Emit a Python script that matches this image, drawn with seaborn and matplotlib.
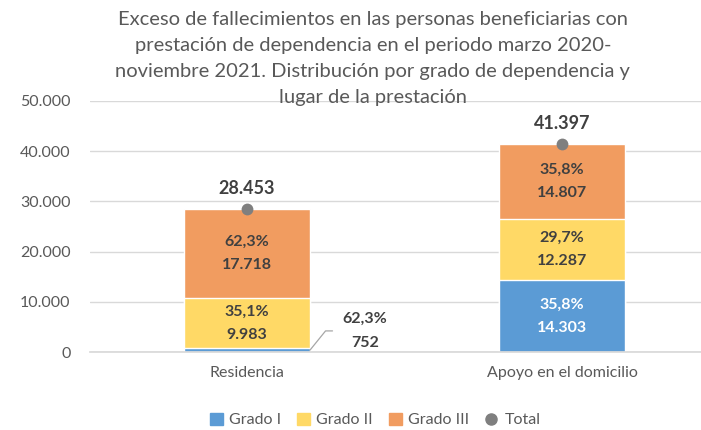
import seaborn as sns
import matplotlib.pyplot as plt
from matplotlib.patches import Patch
from matplotlib.lines import Line2D
import numpy as np

# Data
categories = ["Residencia", "Apoyo en el domicilio"]
grado_1 = [752, 14303]
grado_2 = [9983, 12287]
grado_3 = [17718, 14807]
totals = [28453, 41397]
pct_1 = [62.3, 35.8]
pct_2 = [35.1, 29.7]
pct_3 = [62.3, 35.8]
series_names = ["Grado I", "Grado II", "Grado III", "Total"]
yticks = [0, 10000, 20000, 30000, 40000, 50000]

colors = ["#5B9BD5", "#FFD966", "#F19C60"]
dot_color = "#7F7F7F"
text_dark = "#404040"
text_gray = "#595959"

sns.set_theme(style="white")
plt.rcParams["font.family"] = ["Lato", "DejaVu Sans"]


def es_num(v):
    return f"{v:,}".replace(",", ".")


def es_pct(p):
    return f"{p:.1f}%".replace(".", ",")


fig = plt.figure(figsize=(7.01, 4.30), dpi=100)
ax = fig.add_axes([90 / 701, 1 - 352 / 430, 611 / 701, 251 / 430])

c1 = np.array(grado_1)
c2 = c1 + np.array(grado_2)
c3 = c2 + np.array(grado_3)

# stacked by overdrawing cumulative heights
for heights, col in [(c3, colors[2]), (c2, colors[1]), (c1, colors[0])]:
    sns.barplot(x=categories, y=heights, color=col, width=0.4, ax=ax,
                saturation=1, zorder=2)

sns.stripplot(x=categories, y=totals, jitter=False, color=dot_color,
              size=8.5, ax=ax, zorder=4)

ax.set_xlim(-157 / 315, (701 - 247) / 315)
ax.set_ylim(0, 50000)
ax.set_yticks(yticks)
ax.set_yticklabels([es_num(v) for v in yticks])
ax.set_xlabel("")
ax.set_ylabel("")
ax.grid(axis="y", color="#D9D9D9", lw=1, zorder=0)
ax.set_axisbelow(True)
for s in ["top", "right", "left"]:
    ax.spines[s].set_visible(False)
ax.spines["bottom"].set_color("#D9D9D9")
ax.tick_params(axis="y", labelsize=11.5, colors=text_gray, length=0, pad=14)
ax.tick_params(axis="x", labelsize=11.5, colors=text_gray, length=0, pad=10)

# segment labels
lab_kw = dict(ha="center", va="center", fontsize=11.5, fontweight="bold",
              linespacing=1.85, zorder=5)
for i in range(2):
    ax.text(i, (c2[i] + c3[i]) / 2, f"{es_pct(pct_3[i])}\n{es_num(grado_3[i])}",
            color=text_dark, **lab_kw)
    ax.text(i, (c1[i] + c2[i]) / 2, f"{es_pct(pct_2[i])}\n{es_num(grado_2[i])}",
            color=text_dark, **lab_kw)
    ax.annotate(es_num(totals[i]), (i, totals[i]), xytext=(0, 15),
                textcoords="offset points", ha="center", va="center",
                fontsize=13, fontweight="bold", color=text_dark)

# Grado I labels
ax.text(1, c1[1] / 2, f"{es_pct(pct_1[1])}\n{es_num(grado_1[1])}",
        color="white", **lab_kw)
ax.annotate(f"{es_pct(pct_1[0])}\n{es_num(grado_1[0])}", xy=(0.2, c1[0] / 2),
            xytext=(0.375, 4200), color=text_dark, ha="center", va="center",
            fontsize=11.5, fontweight="bold", linespacing=1.85,
            arrowprops=dict(arrowstyle="-", color="#A6A6A6", lw=0.9,
                            relpos=(0, 0.5),
                            connectionstyle="angle,angleA=0,angleB=51,rad=0",
                            shrinkA=5, shrinkB=0))

# title
fig.text(0.532, 0.975,
         "Exceso de fallecimientos en las personas beneficiarias con\n"
         "prestación de dependencia en el periodo marzo 2020-\n"
         "noviembre 2021. Distribución por grado de dependencia y\n"
         "lugar de la prestación",
         ha="center", va="top", fontsize=14.5, color=text_gray,
         linespacing=1.65)

# legend
handles = [Patch(color=colors[0]), Patch(color=colors[1]), Patch(color=colors[2]),
           Line2D([], [], marker="o", color=dot_color, ls="", markersize=8)]
fig.legend(handles, series_names, loc="center", bbox_to_anchor=(0.535, 0.023),
           ncol=4, frameon=False, fontsize=11.5, handlelength=0.8,
           handleheight=0.8, handletextpad=0.4, columnspacing=1.0,
           labelcolor=text_gray)

fig.savefig("out.png", dpi=100)
